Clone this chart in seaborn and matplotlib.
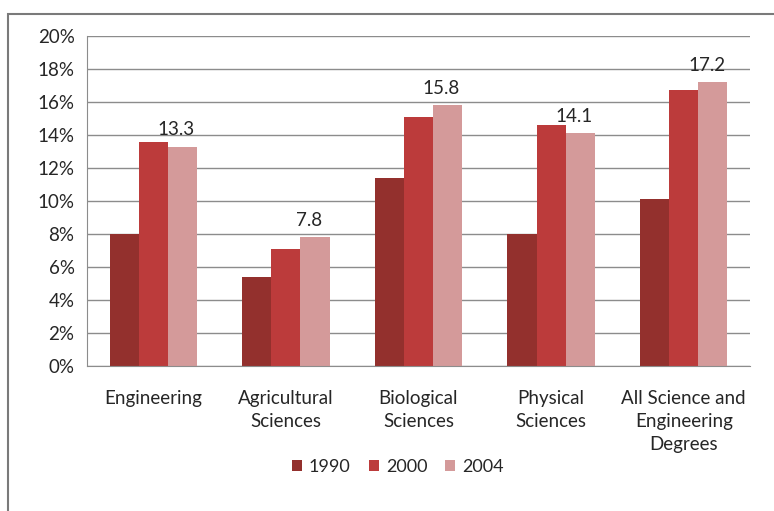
import matplotlib
matplotlib.use("Agg")
import matplotlib.pyplot as plt
import seaborn as sns
import pandas as pd
from matplotlib.patches import Rectangle, Patch
from matplotlib.ticker import FuncFormatter, FixedLocator

categories = ["Engineering", "Agricultural\nSciences", "Biological\nSciences",
              "Physical\nSciences", "All Science and\nEngineering\nDegrees"]
years = ["1990", "2000", "2004"]
v1990 = [8.0, 5.4, 11.4, 8.0, 10.1]
v2000 = [13.6, 7.1, 15.1, 14.6, 16.7]
v2004 = [13.3, 7.8, 15.8, 14.1, 17.2]
labels2004 = ["13.3", "7.8", "15.8", "14.1", "17.2"]
colors = ["#93302D", "#BC3B3B", "#D49A9A"]

rows = []
for yr, vals in zip(years, [v1990, v2000, v2004]):
    for c, v in zip(categories, vals):
        rows.append({"category": c, "year": yr, "value": v})
df = pd.DataFrame(rows)

sns.set_style("white")
plt.rcParams["font.family"] = ["Lato", "DejaVu Sans"]

fig = plt.figure(figsize=(7.74, 5.11), dpi=100)
ax = fig.add_axes([87/774, 1-366/511, (750-87)/774, (366-36)/511])

sns.barplot(data=df, x="category", y="value", hue="year", order=categories,
            hue_order=years, palette=colors, width=0.66, saturation=1,
            linewidth=0, ax=ax, legend=False)

ax.set_ylim(0, 20)
ax.set_xlim(-0.5, len(categories) - 0.5)
ax.yaxis.set_major_locator(FixedLocator(list(range(0, 21, 2))))
ax.yaxis.set_major_formatter(FuncFormatter(lambda v, p: f"{int(v)}%"))
ax.grid(axis="y", color="#8c8c8c", linewidth=1)
ax.set_axisbelow(True)
ax.set_xlabel("")
ax.set_ylabel("")
for s in ["top", "right"]:
    ax.spines[s].set_visible(False)
ax.spines["left"].set_color("#8c8c8c")
ax.spines["bottom"].set_color("#8c8c8c")
ax.tick_params(axis="x", which="major", length=0, pad=17, labelsize=13.5, colors="#262626")
for t in ax.get_xticklabels():
    t.set_linespacing(1.45)
ax.set_xticks([i - 0.5 for i in range(len(categories) + 1)], minor=True)
ax.tick_params(axis="x", which="minor", length=5, color="#8c8c8c", direction="out")
ax.tick_params(axis="y", length=4, color="#8c8c8c", direction="out", labelsize=13.5,
               colors="#262626", pad=5)

# value labels on 2004 bars
bars2004 = ax.containers[2]
for rect, lab in zip(bars2004, labels2004):
    ax.annotate(lab, (rect.get_x() + rect.get_width()/2, rect.get_height()),
                xytext=(-4.5, 6), textcoords="offset points", ha="center", va="bottom",
                fontsize=13.5, color="#262626")

handles = [Patch(facecolor=c, edgecolor="none") for c in colors]
fig.legend(handles, years, loc="center", bbox_to_anchor=(398/774, 1-467/511), ncol=3,
           frameon=False, fontsize=13, handlelength=0.55, handleheight=0.55,
           handletextpad=0.4, columnspacing=1.0)

fig.add_artist(Rectangle((8/774, -0.2), 1.5, 0.2 + (1-14/511), transform=fig.transFigure,
                         facecolor="none", edgecolor="#7a7a7a", linewidth=1.5))

fig.savefig("out.png", dpi=100, facecolor="white")
